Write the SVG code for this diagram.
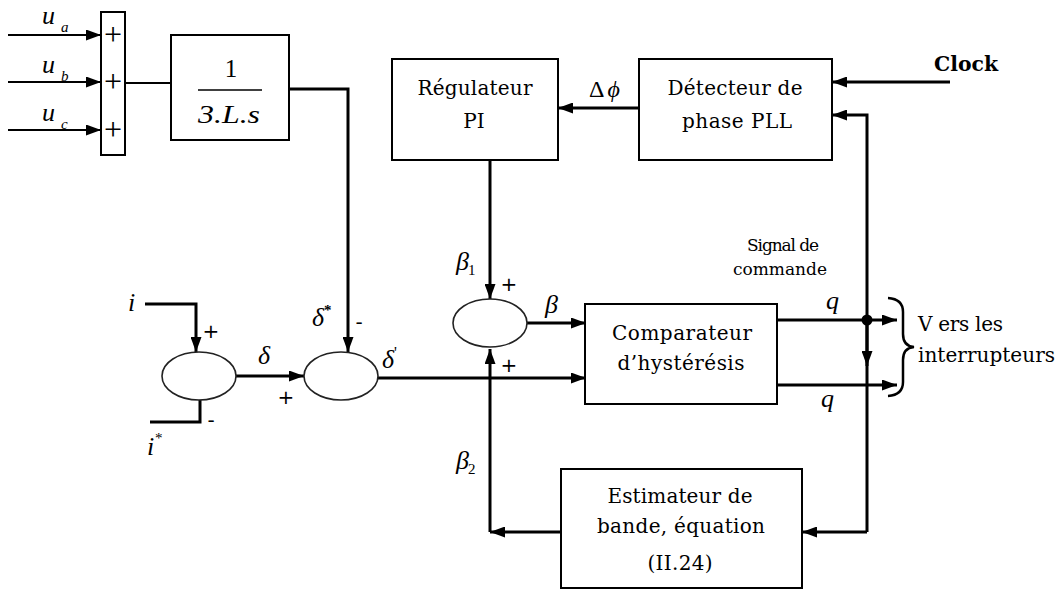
<svg xmlns="http://www.w3.org/2000/svg" width="1062" height="590" viewBox="0 0 1062 590">
<defs>
<marker id="ar" markerUnits="userSpaceOnUse" markerWidth="15" markerHeight="11" refX="15" refY="5.5" orient="auto">
<path d="M0,0 L15,5.5 L0,11 z" fill="#000"/>
</marker>
</defs>
<style>
.box{fill:#fff;stroke:#000;stroke-width:2}
.ell{fill:#fff;stroke:#222;stroke-width:1.6}
.ln{fill:none;stroke:#000;stroke-width:3}
.thin{fill:none;stroke:#000;stroke-width:1.8}
.lbl{font-family:"DejaVu Serif",serif;font-size:20px;fill:#000}
.sm{font-family:"DejaVu Serif",serif;font-size:17px;fill:#000}
.math{font-family:"Liberation Serif",serif;font-style:italic;font-size:26px;fill:#000}
.sub{font-size:15px}
.sgn{font-family:"DejaVu Sans",sans-serif;font-size:20px;fill:#000}
.bp{font-family:"Liberation Serif",serif;font-size:32px;fill:#000}
</style>
<rect width="1062" height="590" fill="#fff"/>

<g id="connectors">
<line class="thin" x1="8" y1="35" x2="101" y2="35" marker-end="url(#ar)"/>
<line class="thin" x1="8" y1="82" x2="101" y2="82" marker-end="url(#ar)"/>
<line class="thin" x1="8" y1="130" x2="101" y2="130" marker-end="url(#ar)"/>
<line class="thin" x1="126" y1="83" x2="171" y2="83" stroke-width="1.5"/>
<path class="ln" d="M289,89 H348 V352" marker-end="url(#ar)"/>
<path class="ln" d="M145,304 H196 V352" marker-end="url(#ar)"/>
<path class="ln" d="M200,400 V422 H150"/>
<line class="ln" x1="236" y1="376" x2="304" y2="376" stroke-width="5" marker-end="url(#ar)"/>
<line class="ln" x1="378" y1="378" x2="586" y2="378" stroke-width="2.5" marker-end="url(#ar)"/>
<line class="ln" x1="490" y1="160" x2="490" y2="299" marker-end="url(#ar)"/>
<line class="ln" x1="527" y1="323" x2="586" y2="323" stroke-width="4.5" marker-end="url(#ar)"/>
<line class="ln" x1="639" y1="108" x2="558" y2="108" stroke-width="4" marker-end="url(#ar)"/>
<line class="ln" x1="950" y1="82" x2="832" y2="82" marker-end="url(#ar)"/>
<path class="ln" d="M867,532 V115 H832" marker-end="url(#ar)"/>
<line class="ln" x1="867" y1="320" x2="867" y2="366" marker-end="url(#ar)"/>
<path class="ln" d="M867,532 H802" marker-end="url(#ar)"/>
<path class="ln" d="M561,532 H490" marker-end="url(#ar)"/>
<line class="ln" x1="490" y1="532" x2="490" y2="349" marker-end="url(#ar)"/>
<line class="ln" x1="777" y1="320" x2="897" y2="320" marker-end="url(#ar)"/>
<line class="ln" x1="777" y1="385" x2="897" y2="385" marker-end="url(#ar)"/>
<circle cx="867" cy="320" r="5.5" fill="#000"/>
<path d="M888,298 Q903,299 903,312 V334 Q903,346 914,347 Q903,348 903,360 V382 Q903,395 888,396" fill="none" stroke="#000" stroke-width="2.5"/>
</g>

<g id="sumbar">
<rect class="box" x="101" y="12" width="24" height="143"/>
<text class="bp" x="113" y="45" text-anchor="middle">+</text>
<text class="bp" x="113" y="92" text-anchor="middle">+</text>
<text class="bp" x="113" y="140" text-anchor="middle">+</text>
</g>

<g id="tf">
<rect class="box" x="171" y="35" width="118" height="105"/>
<text x="231" y="77" text-anchor="middle" font-family="Liberation Serif, serif" font-size="25">1</text>
<line x1="198" y1="90" x2="262" y2="90" stroke="#000" stroke-width="1.5"/>
<text class="math" x="229" y="123" text-anchor="middle" font-size="25" textLength="62" lengthAdjust="spacingAndGlyphs">3.L.s</text>
</g>

<g id="sum1"><ellipse class="ell" cx="199" cy="376" rx="37" ry="24"/></g>
<g id="sum2"><ellipse class="ell" cx="341" cy="376" rx="37" ry="24"/></g>
<g id="sum3"><ellipse class="ell" cx="490" cy="323" rx="37" ry="24"/></g>

<g id="regulateur">
<rect class="box" x="392" y="59" width="166" height="101"/>
<text class="lbl" x="475" y="95" text-anchor="middle" textLength="115">Régulateur</text>
<text class="lbl" x="474" y="128" text-anchor="middle">PI</text>
</g>

<g id="detecteur">
<rect class="box" x="639" y="59" width="193" height="101"/>
<text class="lbl" x="735" y="95" text-anchor="middle" textLength="135">Détecteur de</text>
<text class="lbl" x="737" y="128" text-anchor="middle" textLength="110">phase PLL</text>
</g>

<g id="comparateur">
<rect class="box" x="585" y="304" width="192" height="100"/>
<text class="lbl" x="682" y="340" text-anchor="middle" textLength="140">Comparateur</text>
<text class="lbl" x="681" y="370" text-anchor="middle" textLength="127">d’hystérésis</text>
</g>

<g id="estimateur">
<rect class="box" x="561" y="469" width="241" height="119"/>
<text class="lbl" x="680" y="503" text-anchor="middle" textLength="145">Estimateur de</text>
<text class="lbl" x="681" y="533" text-anchor="middle" textLength="168">bande, équation</text>
<text class="lbl" x="680" y="570" text-anchor="middle" textLength="65">(II.24)</text>
</g>

<g id="labels">
<text class="math" x="42" y="24">u<tspan class="sub" x="61" y="32">a</tspan></text>
<text class="math" x="42" y="73">u<tspan class="sub" x="61" y="81">b</tspan></text>
<text class="math" x="42" y="121">u<tspan class="sub" x="61" y="129">c</tspan></text>
<text class="math" x="128" y="311">i</text>
<text class="math" x="147" y="455">i<tspan class="sub" x="155" y="443" font-style="normal">*</tspan></text>
<text class="sgn" x="211" y="338" text-anchor="middle">+</text>
<text class="sgn" x="211" y="427" text-anchor="middle">-</text>
<text class="sgn" x="286" y="404" text-anchor="middle">+</text>
<text class="math" x="258" y="364">δ</text>
<text class="math" x="312" y="326">δ<tspan class="sub" font-style="normal" font-weight="bold" dy="-11">*</tspan></text>
<text class="sgn" x="359" y="329" text-anchor="middle">-</text>
<text class="math" x="382" y="368">δ<tspan font-style="normal" font-size="16" dy="-10">'</tspan></text>
<text class="math" x="456" y="270">β<tspan class="sub" dx="-1" dy="5" font-style="normal">1</tspan></text>
<text class="sgn" x="509" y="291" text-anchor="middle">+</text>
<text class="math" x="545" y="313">β</text>
<text class="sgn" x="509" y="372" text-anchor="middle">+</text>
<text class="math" x="456" y="469">β<tspan class="sub" dx="-1" dy="5" font-style="normal">2</tspan></text>
<text x="589" y="97" font-family="Liberation Serif, serif" font-size="24">Δ<tspan font-style="italic" dx="3">ϕ</tspan></text>
<text x="934" y="71" font-family="DejaVu Serif, serif" font-weight="bold" font-size="20" textLength="64" lengthAdjust="spacingAndGlyphs">Clock</text>
<text class="sm" x="783" y="251" text-anchor="middle" textLength="72">Signal de</text>
<text class="sm" x="780" y="275" text-anchor="middle" textLength="94">commande</text>
<text class="math" x="826" y="309">q</text>
<text class="math" x="821" y="407">q</text>
<text class="lbl" x="918" y="331" textLength="85">V ers les</text>
<text class="lbl" x="918" y="362" textLength="137">interrupteurs</text>
</g>
</svg>
